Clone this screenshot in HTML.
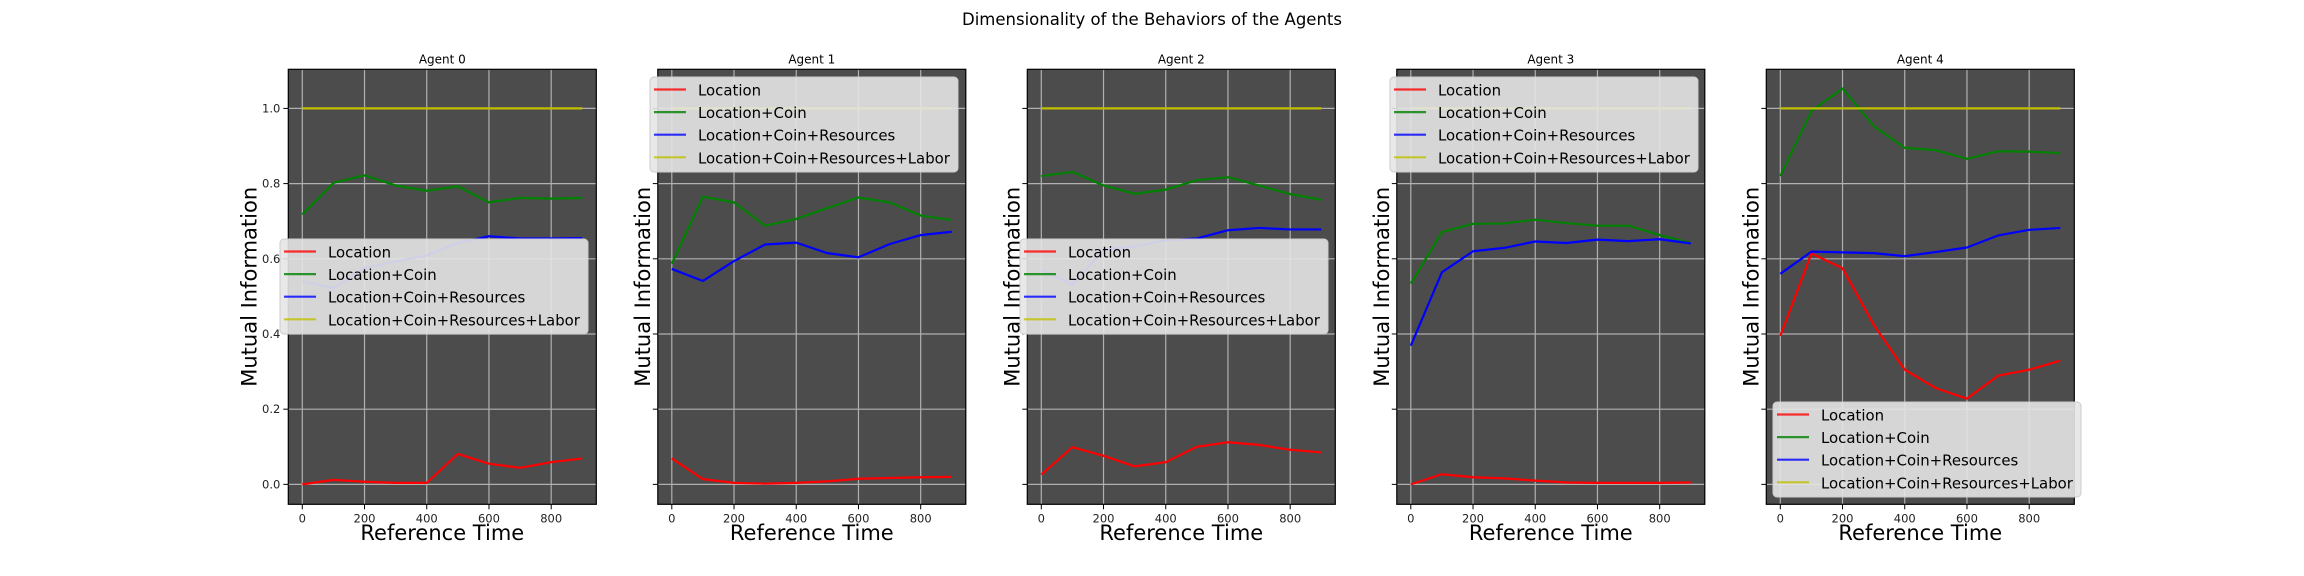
<!DOCTYPE html>
<html><head><meta charset="utf-8">
<style>
html,body{margin:0;padding:0;background:#fff;}
svg{display:block;font-family:"DejaVu Sans","Liberation Sans",sans-serif;}
</style></head>
<body>
<svg id="fig" width="2304" height="576" viewBox="0 0 2304 576" xmlns="http://www.w3.org/2000/svg">
<rect width="2304" height="576" fill="#fff"/>
<text x="1152" y="25" text-anchor="middle" font-size="16.5" fill="#000">Dimensionality of the Behaviors of the Agents</text>
</svg>
<script>
const times = [0,100,200,300,400,500,600,700,800,900];
const seriesNames = ["Location","Location+Coin","Location+Coin+Resources","Location+Coin+Resources+Labor"];
const xTicks = [0,200,400,600,800];
const yTicks = [0.0,0.2,0.4,0.6,0.8,1.0];
const yTickLabels = ["0.0","0.2","0.4","0.6","0.8","1.0"];
const agent0Loc = [0,0.012,0.007,0.004,0.004,0.081,0.055,0.044,0.059,0.069];
const agent0Coin = [0.718,0.802,0.822,0.795,0.781,0.793,0.750,0.762,0.760,0.762];
const agent0Res = [0.540,0.522,0.575,0.593,0.609,0.642,0.660,0.654,0.654,0.655];
const agent0Labor = [1,1,1,1,1,1,1,1,1,1];
const agent1Loc = [0.069,0.014,0.004,0.002,0.004,0.008,0.015,0.017,0.019,0.020];
const agent1Coin = [0.587,0.765,0.750,0.688,0.706,0.735,0.763,0.750,0.715,0.703];
const agent1Res = [0.573,0.541,0.594,0.638,0.643,0.615,0.604,0.639,0.663,0.672];
const agent1Labor = [1,1,1,1,1,1,1,1,1,1];
const agent2Loc = [0.026,0.099,0.076,0.048,0.059,0.100,0.112,0.105,0.092,0.085];
const agent2Coin = [0.820,0.831,0.795,0.773,0.784,0.809,0.817,0.795,0.772,0.757];
const agent2Res = [0.571,0.531,0.624,0.633,0.649,0.654,0.676,0.682,0.678,0.678];
const agent2Labor = [1,1,1,1,1,1,1,1,1,1];
const agent3Loc = [0,0.027,0.019,0.016,0.010,0.005,0.004,0.004,0.004,0.005];
const agent3Coin = [0.534,0.671,0.693,0.694,0.704,0.695,0.688,0.688,0.663,0.642];
const agent3Res = [0.369,0.564,0.620,0.629,0.646,0.642,0.651,0.647,0.652,0.641];
const agent3Labor = [1,1,1,1,1,1,1,1,1,1];
const agent4Loc = [0.395,0.614,0.575,0.425,0.305,0.256,0.228,0.289,0.305,0.329];
const agent4Coin = [0.820,0.993,1.053,0.953,0.895,0.889,0.866,0.886,0.885,0.881];
const agent4Res = [0.560,0.619,0.617,0.615,0.607,0.618,0.630,0.662,0.677,0.682];
const agent4Labor = [1,1,1,1,1,1,1,1,1,1];

const agents = [
  [agent0Loc,agent0Coin,agent0Res,agent0Labor],
  [agent1Loc,agent1Coin,agent1Res,agent1Labor],
  [agent2Loc,agent2Coin,agent2Res,agent2Labor],
  [agent3Loc,agent3Coin,agent3Res,agent3Labor],
  [agent4Loc,agent4Coin,agent4Res,agent4Labor]
];
const colors = ["#ff0000","#008000","#0000ff","#bfbf00"];
const legendPos = [[280,239],[650,77],[1020,239],[1390,77],[1773,402]];

const NS = "http://www.w3.org/2000/svg";
const fig = document.getElementById("fig");
function mk(tag, attrs, parent){
  const e = document.createElementNS(NS, tag);
  for (const k in attrs) e.setAttribute(k, attrs[k]);
  (parent||fig).appendChild(e);
  return e;
}
// measure legend font size so the longest entry spans ~252px
const probe = mk("text", {x:0, y:-100, "font-size":20});
probe.textContent = seriesNames[3];
let legFont = 17;
try { const w = probe.getComputedTextLength(); if (w > 0) legFont = 20 * 252 / w; } catch(e) {}
fig.removeChild(probe);

const axTop = 69.3, axBottom = 504.3, W = 308;
const xMin = -45, xMax = 945, yMin = -0.053, yMax = 1.104;

agents.forEach((series, i) => {
  const left = 288.3 + 369.5 * i;
  const xs = v => left + (v - xMin) / (xMax - xMin) * W;
  const ys = v => axBottom - (v - yMin) / (yMax - yMin) * (axBottom - axTop);
  const g = mk("g", {});
  
  
  const bg = mk("rect", {x:left, y:axTop, width:W, height:axBottom-axTop, fill:"#4c4c4c"}, g);
  
  
  xTicks.forEach(t => {
    const l = mk("line", {x1:xs(t), x2:xs(t), y1:axTop, y2:axBottom, stroke:"#b0b0b0", "stroke-width":1.2}, g);
    
    
    const tk = mk("line", {x1:xs(t), x2:xs(t), y1:axBottom, y2:axBottom+5, stroke:"#000", "stroke-width":1}, g);
    
    
    const tl = mk("text", {x:xs(t), y:axBottom+18, "text-anchor":"middle", "font-size":11.5, fill:"#222"}, g);
    tl.textContent = t;
    
    
  });
  yTicks.forEach((t, k) => {
    const l = mk("line", {x1:left, x2:left+W, y1:ys(t), y2:ys(t), stroke:"#b0b0b0", "stroke-width":1.2}, g);
    
    
    const tk = mk("line", {x1:left-5, x2:left, y1:ys(t), y2:ys(t), stroke:"#000", "stroke-width":1}, g);
    
    
    if (i === 0) {
      const tl = mk("text", {x:left-8, y:ys(t)+4, "text-anchor":"end", "font-size":11.5, fill:"#222"}, g);
      tl.textContent = yTickLabels[k];
      
      
    }
  });
  series.forEach((vals, s) => {
    const d = vals.map((v, j) => (j ? "L" : "M") + xs(times[j]).toFixed(2) + "," + ys(v).toFixed(2)).join(" ");
    const p = mk("path", {d:d, fill:"none", stroke:colors[s], "stroke-width":2.2, "stroke-linejoin":"round"}, g);
    
    
  });
  const frame = mk("rect", {x:left, y:axTop, width:W, height:axBottom-axTop, fill:"none", stroke:"#000", "stroke-width":1.2}, g);
  
  
  const ttl = mk("text", {x:left+W/2, y:axTop-6, "text-anchor":"middle", "font-size":12, fill:"#000"}, g);
  ttl.textContent = "Agent " + i;
  
  
  const xl = mk("text", {x:left+W/2, y:540, "text-anchor":"middle", "font-size":21, fill:"#000"}, g);
  xl.textContent = "Reference Time";
  
  
  const yx = i === 0 ? left - 32 : left - 8;
  const yl = mk("text", {x:yx, y:(axTop+axBottom)/2, "text-anchor":"middle", "font-size":21, fill:"#000", transform:"rotate(-90 " + yx + " " + (axTop+axBottom)/2 + ")"}, g);
  yl.textContent = "Mutual Information";
  
  
  const [lx, ly] = legendPos[i];
  const lg = mk("g", {}, g);
  
  
  mk("rect", {x:lx, y:ly, width:308, height:95, rx:4, fill:"#e6e6e6", "fill-opacity":0.9, stroke:"#cccccc", "stroke-width":1}, lg);
  seriesNames.forEach((nm, s) => {
    const cy = ly + 12.5 + s * 22.6;
    const h = mk("line", {x1:lx+4, x2:lx+36, y1:cy, y2:cy, stroke:colors[s], "stroke-width":2.2, "stroke-opacity":0.8}, lg);
    
    
    const t = mk("text", {x:lx+48, y:cy+6, "font-size":legFont.toFixed(2), fill:"#000"}, lg);
    t.textContent = nm;
    
    
  });
});
</script>
</body></html>
